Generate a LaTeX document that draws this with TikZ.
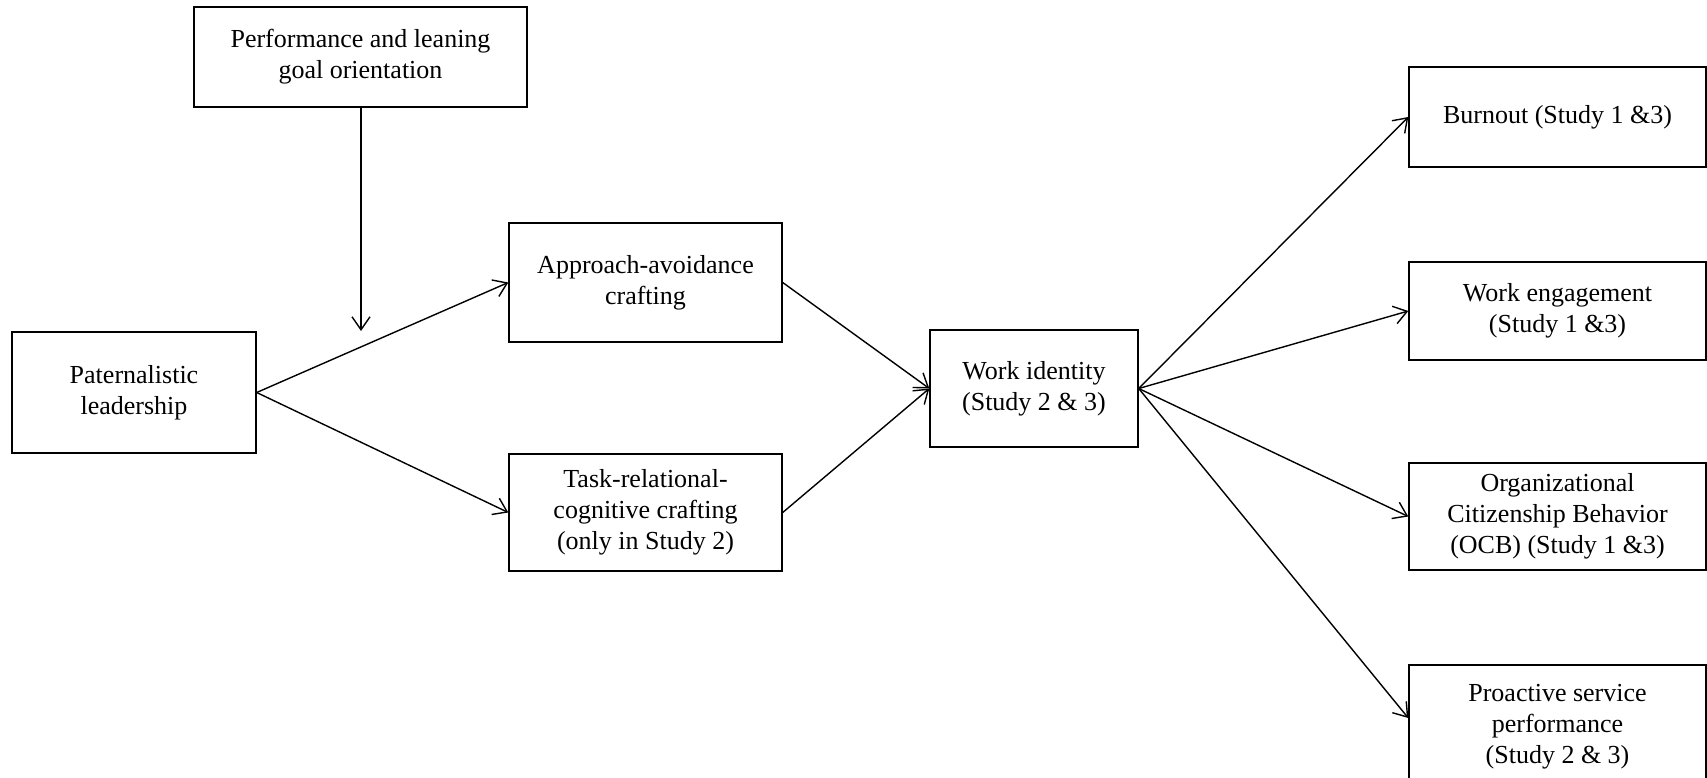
\documentclass[tikz,border=0pt]{standalone}
\usepackage{fontspec}
\setmainfont{Liberation Serif}
\usetikzlibrary{arrows.meta, positioning}

\begin{document}
\begin{tikzpicture}[
    x=0.5pt, y=-0.5pt,
    box/.style={rectangle, draw=black, line width=0.7pt, inner sep=0pt, align=center,
        font=\fontsize{13pt}{15.5pt}\selectfont},
    arrow/.style={-{Straight Barb[length=6.5pt, width=9pt, line width=0.7pt]}, line width=0.7pt}
]
    \useasboundingbox (0,0) rectangle (1707,777);

    % Predictor, moderator and mediators
    \node[box, minimum width=166.5pt, minimum height=50pt] (goal) at (360.5,57) {Performance and leaning\\goal orientation};
    \node[box, minimum width=122pt, minimum height=60.5pt] (lead) at (134,392.5) {Paternalistic\\leadership};
    \node[box, minimum width=136.5pt, minimum height=59.5pt] (approach) at (645.5,282.5) {Approach-avoidance\\crafting};
    \node[box, minimum width=136.5pt, minimum height=58.5pt] (task) at (645.5,512.5) {Task-relational-\\cognitive crafting\\(only in Study 2)};
    \node[box, minimum width=104pt, minimum height=58.5pt] (identity) at (1034,388.5) {Work identity\\(Study 2 \& 3)};

    % Outcomes
    \node[box, minimum width=148.5pt, minimum height=50pt] (burnout) at (1557.5,117) {Burnout (Study 1 \&3)};
    \node[box, minimum width=148.5pt, minimum height=49pt] (engage) at (1557.5,311) {Work engagement\\(Study 1 \&3)};
    \node[box, minimum width=148.5pt, minimum height=53.5pt] (ocb) at (1557.5,516.5) {Organizational\\Citizenship Behavior\\(OCB) (Study 1 \&3)};
    \node[box, minimum width=148.5pt, minimum height=62pt] (proactive) at (1557.5,727) {Proactive service\\performance\\(Study 2 \& 3)};

    \coordinate (mod) at (361,331);

    % Arrows
    \draw[arrow] (goal.south -| mod) -- (mod);
    \draw[arrow] (lead.east) -- (approach.west);
    \draw[arrow] (lead.east) -- (task.west);
    \draw[arrow] (approach.east) -- (identity.west);
    \draw[arrow] (task.east) -- (identity.west);
    \draw[arrow] (identity.east) -- (burnout.west);
    \draw[arrow] (identity.east) -- (engage.west);
    \draw[arrow] (identity.east) -- (ocb.west);
    \draw[arrow] (identity.east) -- ([yshift=4.5pt]proactive.west);
\end{tikzpicture}
\end{document}
